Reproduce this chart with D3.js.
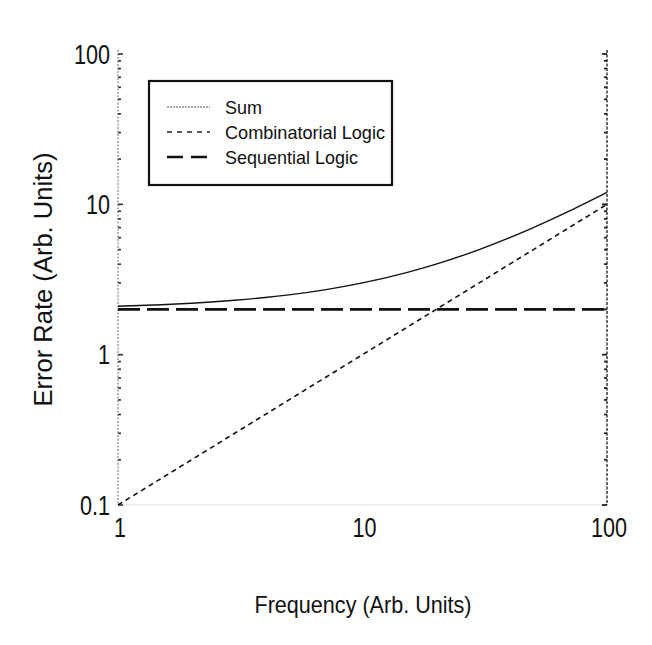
<!DOCTYPE html>
<html>
<head>
<meta charset="utf-8">
<script src="https://cdn.jsdelivr.net/npm/d3@7"></script>
<style>
  html, body { margin: 0; padding: 0; background: #fff; }
  svg { display: block; }
  text { font-family: "Liberation Sans", Arial, sans-serif; fill: #111; }
</style>
</head>
<body>
<svg id="chart" width="652" height="645"></svg>
<script>
// ---- data ----
const frequency = [1, 1.5, 2, 3, 4, 5, 7, 10, 15, 20, 30, 40, 50, 70, 100];
const sumRate = [2.1, 2.15, 2.2, 2.3, 2.4, 2.5, 2.7, 3.0, 3.5, 4.0, 5.0, 6.0, 7.0, 9.0, 12.0];
const combinatorialRate = [0.1, 0.15, 0.2, 0.3, 0.4, 0.5, 0.7, 1, 1.5, 2, 3, 4, 5, 7, 10];
const sequentialRate = [2, 2, 2, 2, 2, 2, 2, 2, 2, 2, 2, 2, 2, 2, 2];
const xTickLabels = ["1", "10", "100"];
const yTickLabels = ["0.1", "1", "10", "100"];
const seriesNames = ["Sum", "Combinatorial Logic", "Sequential Logic"];

const svg = d3.select("#chart");
const mLeft = 118, mRight = 607, mTop = 54, mBottom = 505;

const x = d3.scaleLog().domain([1, 100]).range([mLeft, mRight]);
const y = d3.scaleLog().domain([0.1, 100]).range([mBottom, mTop]);

// condensed text helper
function label(g, tx, ty, str, size, anchor, sx) {
  return g.append("text")
    .attr("transform", `translate(${tx},${ty}) scale(${sx},1)`)
    .attr("dy", "0.36em").attr("text-anchor", anchor).attr("font-size", size).text(str);
}

// axis lines: left & right dotted, faint bottom
svg.append("line").attr("x1", mLeft).attr("x2", mLeft).attr("y1", mTop - 4).attr("y2", mBottom)
  .attr("stroke", "#777").attr("stroke-width", 1.1).attr("stroke-dasharray", "2,1.5");
svg.append("line").attr("x1", mRight).attr("x2", mRight).attr("y1", mTop - 4).attr("y2", mBottom)
  .attr("stroke", "#444").attr("stroke-width", 1.6).attr("stroke-dasharray", "3,1.5");
svg.append("line").attr("x1", mLeft).attr("x2", mRight).attr("y1", mBottom).attr("y2", mBottom)
  .attr("stroke", "#cfcfcf").attr("stroke-width", 0.8);

// minor/major ticks on left and right axes
y.ticks().forEach(v => {
  const major = yTickLabels.includes(String(v));
  const len = major ? 5 : 3;
  svg.append("line").attr("x1", mLeft).attr("x2", mLeft + len).attr("y1", y(v)).attr("y2", y(v))
    .attr("stroke", "#333").attr("stroke-width", 1.6);
  svg.append("line").attr("x1", mRight).attr("x2", mRight - len).attr("y1", y(v)).attr("y2", y(v))
    .attr("stroke", "#222").attr("stroke-width", 1.8);
});

// tick labels
yTickLabels.forEach(t => label(svg, mLeft - 8, y(+t), t, 27, "end", 0.8));
xTickLabels.forEach(t => label(svg, x(+t) + 2, mBottom + 22, t, 27, "middle", 0.8));

// axis titles
svg.append("text").attr("x", 363).attr("y", 604).attr("dy", "0.36em")
  .attr("text-anchor", "middle").attr("font-size", 24)
  .attr("textLength", 217).attr("lengthAdjust", "spacingAndGlyphs").text("Frequency (Arb. Units)");
svg.append("text").attr("transform", `translate(43,${(mTop + mBottom) / 2}) rotate(-90)`)
  .attr("dy", "0.36em").attr("text-anchor", "middle").attr("font-size", 25)
  .attr("textLength", 254).attr("lengthAdjust", "spacingAndGlyphs").text("Error Rate (Arb. Units)");

// lines
const line = vals => d3.line().x((d, i) => x(frequency[i])).y(d => y(d)).curve(d3.curveMonotoneX)(vals);
const styles = [
  { data: sumRate, dash: null, width: 1.4 },
  { data: combinatorialRate, dash: "5,4", width: 1.6 },
  { data: sequentialRate, dash: "22,7", width: 2.6 }
];
styles.forEach(s => {
  svg.append("path").attr("d", line(s.data)).attr("fill", "none").attr("stroke", "#111")
    .attr("stroke-width", s.width).attr("stroke-dasharray", s.dash);
});

// legend
const lg = svg.append("g");
lg.append("rect").attr("x", 149).attr("y", 81).attr("width", 243).attr("height", 104)
  .attr("fill", "#fff").attr("stroke", "#111").attr("stroke-width", 2.2);
const legendDash = ["2,1", "5,5", "16,8"];
const legendWidth = [1, 1.6, 2.4];
const legendColor = ["#555", "#222", "#111"];
const legendLen = [37, 160, 133];
seriesNames.forEach((n, i) => {
  const ly = 107 + i * 25;
  lg.append("line").attr("x1", 167).attr("x2", 210).attr("y1", ly).attr("y2", ly)
    .attr("stroke", legendColor[i]).attr("stroke-width", legendWidth[i]).attr("stroke-dasharray", legendDash[i]);
  lg.append("text").attr("x", 225).attr("y", ly).attr("dy", "0.36em").attr("font-size", 19)
    .attr("textLength", legendLen[i]).attr("lengthAdjust", "spacingAndGlyphs").text(n);
});
</script>
</body>
</html>
